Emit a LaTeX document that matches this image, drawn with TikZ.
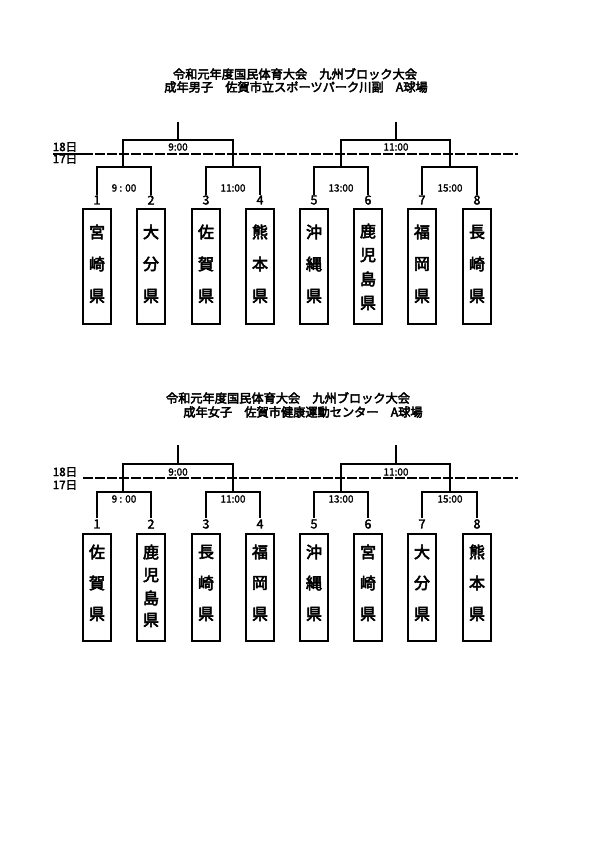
\documentclass[tikz,border=0pt]{standalone}
\usepackage{fontspec}
\newfontfamily\cjka{Noto Sans CJK JP}[FakeBold=2.5]
\newfontfamily\cjkb{Noto Sans CJK JP}[FakeBold=3.5]
\newfontfamily\cjkc{Noto Sans CJK JP}[FakeBold=1.5]
\begin{document}
\begin{tikzpicture}[x=1pt,y=-1pt,
  br/.style={line width=2pt},
  dayline/.style={line width=2pt,dash pattern=on 10pt off 2pt},
  team/.style={draw,line width=2pt,minimum width=28pt,inner sep=0pt,anchor=north},
  tname/.style={font=\cjkb\fontsize{16}{16}\selectfont,inner sep=0pt},
  num/.style={font=\cjka\fontsize{12.5}{12.5}\selectfont,inner sep=0pt},
  tm/.style={font=\cjkc\fontsize{10}{10}\selectfont,inner sep=0pt},
  ttl/.style={font=\cjkb\fontsize{12.2}{12.2}\selectfont,inner sep=0pt},
  day/.style={font=\cjka\fontsize{11.5}{11.5}\selectfont,inner sep=0pt}]
\useasboundingbox (0,0) rectangle (595,842);
\fill[white] (0,0) rectangle (595,842);

% ---------- Section 1 ----------
\node[ttl] (t1a) at (295,74) {令和元年度国民体育大会　九州ブロック大会};
\node[ttl] (t1b) at (296,87) {成年男子　佐賀市立スポーツパーク川副　A球場};

\node[day] (d18a) at (65,147) {18日};
\node[day] (d17a) at (65,159) {17日};
\coordinate (la0) at (53,154);
\coordinate (la1) at (83,154);
\coordinate (la2) at (518,154);
\draw[br] (la0) -- (la1);
\draw[dayline] (la1) -- (la2);

\foreach \c/\l/\r in {178/123/233, 396/341/450}{
  \draw[br] (\c,122) -- (\c,140);
  \draw[br] (\l,167) -- (\l,140) -- (\r,140) -- (\r,167);
}
\node[tm] (ta1) at (178,147) {9:00};
\node[tm] (ta2) at (396,147) {11:00};
\foreach \l/\r in {97/151, 206/260, 314/368, 422/477}{
  \draw[br] (\l,195) -- (\l,167) -- (\r,167) -- (\r,195);
}
\node[tm] (tb1) at (124,188) {9 : 00};
\node[tm] (tb2) at (233,188) {11:00};
\node[tm] (tb3) at (341,188) {13:00};
\node[tm] (tb4) at (450,188) {15:00};

\foreach \i/\x in {1/97,2/151,3/206,4/260,5/314,6/368,7/422,8/477}{
  \node[num] (na\i) at (\x,200) {\i};
  \node[team,minimum height=115pt] (ba\i) at (\x,208) {};
}
\foreach \i/\a/\b/\c in {1/宮/崎/県,2/大/分/県,3/佐/賀/県,4/熊/本/県,5/沖/縄/県,7/福/岡/県,8/長/崎/県}{
  \node[tname] at ([yshift=-24pt]ba\i.north) {\a};
  \node[tname] at ([yshift=-56pt]ba\i.north) {\b};
  \node[tname] at ([yshift=-88pt]ba\i.north) {\c};
}
\node[tname] at ([yshift=-23pt]ba6.north) {鹿};
\node[tname] at ([yshift=-47pt]ba6.north) {児};
\node[tname] at ([yshift=-71pt]ba6.north) {島};
\node[tname] at ([yshift=-95pt]ba6.north) {県};

% ---------- Section 2 ----------
\node[ttl] (t2a) at (288,398) {令和元年度国民体育大会　九州ブロック大会};
\node[ttl] (t2b) at (303,412) {成年女子　佐賀市健康運動センター　A球場};

\node[day] (d18b) at (65,472) {18日};
\node[day] (d17b) at (65,485) {17日};
\coordinate (lb1) at (83,478);
\coordinate (lb2) at (518,478);
\draw[dayline] (lb1) -- (lb2);

\foreach \c/\l/\r in {178/123/233, 396/341/450}{
  \draw[br] (\c,445) -- (\c,464);
  \draw[br] (\l,492) -- (\l,464) -- (\r,464) -- (\r,492);
}
\node[tm] (tc1) at (178,472) {9:00};
\node[tm] (tc2) at (396,472) {11:00};
\foreach \l/\r in {97/151, 206/260, 314/368, 422/477}{
  \draw[br] (\l,518) -- (\l,492) -- (\r,492) -- (\r,518);
}
\node[tm] (td1) at (124,499) {9 : 00};
\node[tm] (td2) at (233,499) {11:00};
\node[tm] (td3) at (341,499) {13:00};
\node[tm] (td4) at (450,499) {15:00};

\foreach \i/\x in {1/97,2/151,3/206,4/260,5/314,6/368,7/422,8/477}{
  \node[num] (nb\i) at (\x,524) {\i};
  \node[team,minimum height=107pt] (bb\i) at (\x,533) {};
}
\foreach \i/\a/\b/\c in {1/佐/賀/県,3/長/崎/県,4/福/岡/県,5/沖/縄/県,6/宮/崎/県,7/大/分/県,8/熊/本/県}{
  \node[tname] at ([yshift=-19pt]bb\i.north) {\a};
  \node[tname] at ([yshift=-50pt]bb\i.north) {\b};
  \node[tname] at ([yshift=-81pt]bb\i.north) {\c};
}
\node[tname] at ([yshift=-19pt]bb2.north) {鹿};
\node[tname] at ([yshift=-42pt]bb2.north) {児};
\node[tname] at ([yshift=-65pt]bb2.north) {島};
\node[tname] at ([yshift=-87pt]bb2.north) {県};
\end{tikzpicture}
\end{document}
